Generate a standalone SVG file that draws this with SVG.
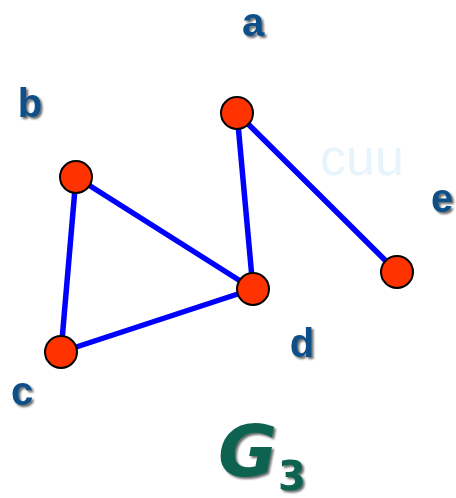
<svg xmlns="http://www.w3.org/2000/svg" width="456" height="498" viewBox="0 0 456 498">
<defs>
<filter id="sh" x="-30%" y="-30%" width="160%" height="160%">
<feDropShadow dx="2" dy="2" stdDeviation="1" flood-color="#000" flood-opacity="0.6"/>
</filter>
<style>
.lbl{font-family:"Liberation Sans",Arial,sans-serif;font-weight:bold;font-size:40px;fill:#0b4f86;filter:url(#sh);text-anchor:middle}
.edge{stroke:#0000ff;stroke-width:5.5;stroke-linecap:round}
.node{fill:#ff3300;stroke:#000;stroke-width:2}
.wm{font-family:"Liberation Sans",Arial,sans-serif;font-size:52px;fill:#e8f4fc}
.g{font-family:"DejaVu Sans",sans-serif;font-weight:bold;fill:#0b6450;filter:url(#sh)}
</style>
</defs>
<rect width="456" height="498" fill="#fff"/>
<text class="wm" x="320" y="175">cuu</text>
<g id="connectors">
<line class="edge" x1="237" y1="113" x2="253" y2="289"/>
<line class="edge" x1="237" y1="113" x2="397" y2="272"/>
<line class="edge" x1="76" y1="177" x2="253" y2="289"/>
<line class="edge" x1="76" y1="177" x2="61" y2="352"/>
<line class="edge" x1="61" y1="352" x2="253" y2="289"/>
</g>
<g id="node-a"><circle class="node" cx="237" cy="113" r="16"/><text class="lbl" x="253" y="36">a</text></g>
<g id="node-b"><circle class="node" cx="76" cy="177" r="16"/><text class="lbl" x="30" y="117">b</text></g>
<g id="node-c"><circle class="node" cx="61" cy="352" r="16"/><text class="lbl" x="22" y="405">c</text></g>
<g id="node-d"><circle class="node" cx="253" cy="289" r="16"/><text class="lbl" x="302" y="357">d</text></g>
<g id="node-e"><circle class="node" cx="397" cy="272" r="16"/><text class="lbl" x="442" y="212">e</text></g>
<g id="title"><text class="g" x="218" y="476" font-size="72" font-style="italic">G</text><text class="g" x="278" y="490" font-size="40">3</text></g>
</svg>
